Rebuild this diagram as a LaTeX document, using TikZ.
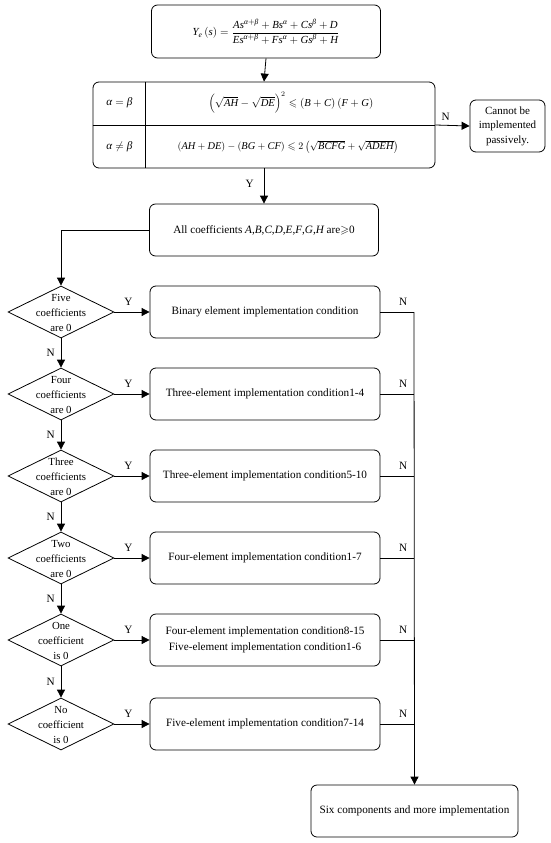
\documentclass[tikz,border=0pt]{standalone}
\usepackage{amsmath,amssymb}
\usepackage{fontspec}
\setmainfont{Liberation Serif}
\DeclareSymbolFont{tit}{TU}{\rmdefault}{m}{it}
\Umathcode`A="7 \symtit `A
\Umathcode`B="7 \symtit `B
\Umathcode`C="7 \symtit `C
\Umathcode`D="7 \symtit `D
\Umathcode`E="7 \symtit `E
\Umathcode`F="7 \symtit `F
\Umathcode`G="7 \symtit `G
\Umathcode`H="7 \symtit `H
\Umathcode`Y="7 \symtit `Y
\Umathcode`e="7 \symtit `e
\Umathcode`s="7 \symtit `s
\Umathchardef\myalpha="0 \symtit "03B1
\Umathchardef\mybeta="0 \symtit "03B2
\usetikzlibrary{arrows.meta,shapes.geometric}
\begin{document}
\begin{tikzpicture}[x=1pt,y=-1pt,
  every node/.style={font=\fontsize{11.2}{14}\selectfont},
  box/.style={draw, rounded corners=6pt, line width=0.8pt, inner sep=0pt, align=center, minimum width=230pt, minimum height=52pt},
  dia/.style={draw, diamond, line width=0.8pt, inner sep=0pt, minimum width=106pt, minimum height=52pt},
  diatext/.style={align=center, font=\fontsize{10.8}{15}\selectfont},
  lbl/.style={inner sep=0pt},
  ln/.style={line width=0.8pt},
  arr/.style={line width=0.8pt, -{Triangle[length=8pt,width=8pt]}}]
\useasboundingbox (0,0) rectangle (550,843);

% top formula
\node[box, minimum width=229pt, minimum height=53pt] (top) at (266,31.5)
  {\fontsize{10.8}{13}\selectfont$Y_e\left(s\right)=\dfrac{As^{\myalpha+\mybeta}+Bs^{\myalpha}+Cs^{\mybeta}+D}{Es^{\myalpha+\mybeta}+Fs^{\myalpha}+Gs^{\mybeta}+H}$};

% conditions box
\node[box, minimum width=342pt, minimum height=86pt] (cond) at (264,125) {};
\draw[ln] ([xshift=53pt]cond.north west) -- ([xshift=53pt]cond.south west);
\draw[ln] (cond.west) -- (cond.east);
\node[lbl] (ab1) at (119.5,103) {$\myalpha=\mybeta$};
\node[lbl] (ab2) at (119.5,147) {$\myalpha\neq\mybeta$};
\node[lbl] (f1) at (291,103) {\fontsize{10.6}{13}\selectfont$\left(\sqrt{AH}-\sqrt{DE}\right)^2\leqslant\left(B+C\right)\left(F+G\right)$};
\node[lbl] (f2) at (288,147) {\fontsize{10.4}{13}\selectfont$\left(AH+DE\right)-\left(BG+CF\right)\leqslant2\left(\sqrt{BCFG}+\sqrt{ADEH}\right)$};

\node[box, minimum width=75pt, minimum height=52pt, font=\fontsize{11}{14.5}\selectfont] (cannot) at (507.5,126) {Cannot be\\implemented\\passively.};

\draw[arr] (top.south) -- (cond.north);
\draw[arr] (cond.east) -- node[lbl, pos=0.3, above=4pt] (nc) {N} (cannot.west);

% all coefficients
\node[box, minimum width=229pt] (allc) at (264,230) {All coefficients $A$,$B$,$C$,$D$,$E$,$F$,$G$,$H$ are$\geqslant$0};
\draw[arr] (cond.south) -- node[lbl, pos=0.45, left=10pt] (yc) {Y} (allc.north);

% diamonds
\node[dia] (d1) at (61,312) {};
\node[dia] (d2) at (61,394) {};
\node[dia] (d3) at (61,476) {};
\node[dia] (d4) at (61,558) {};
\node[dia] (d5) at (61,640) {};
\node[dia] (d6) at (61,724) {};
\node[diatext] (t1) at ([yshift=-1pt]d1) {Five\\coefficients\\are 0};
\node[diatext] (t2) at ([yshift=-1pt]d2) {Four\\coefficients\\are 0};
\node[diatext] (t3) at ([yshift=-1pt]d3) {Three\\coefficients\\are 0};
\node[diatext] (t4) at ([yshift=-1pt]d4) {Two\\coefficients\\are 0};
\node[diatext] (t5) at ([yshift=-1pt]d5) {One\\coefficient\\is 0};
\node[diatext] (t6) at ([yshift=-1pt]d6) {No\\coefficient\\is 0};

% right boxes
\node[box] (r1) at (265,312) {Binary element implementation condition};
\node[box] (r2) at (265,394) {Three-element implementation condition1-4};
\node[box] (r3) at (265,476) {Three-element implementation condition5-10};
\node[box] (r4) at (265,558) {Four-element implementation condition1-7};
\node[box, font=\fontsize{11.2}{16}\selectfont] (r5) at (265,640) {Four-element implementation condition8-15\\Five-element implementation condition1-6};
\node[box] (r6) at (265,724) {Five-element implementation condition7-14};

\node[box, minimum width=207pt] (fin) at (414.5,811) {Six components and more implementation};

\draw[arr] (allc.west) -| (d1.north);
\foreach \a/\b in {d1/d2,d2/d3,d3/d4,d4/d5,d5/d6}
  \draw[arr] (\a.south) -- node[lbl, left=6pt] {N} (\b.north);
\foreach \i in {1,...,6}
  \draw[arr] (d\i.east) -- node[lbl, above=6pt, pos=0.4] {Y} (r\i.west);

% N collector
\foreach \i/\y in {1/312,2/394,3/476,4/558,5/640,6/724}
  \coordinate (j\i) at (414,\y);
\foreach \i in {1,...,6}
  \draw[ln] (r\i.east) -- node[lbl, above=6pt, pos=0.68] {N} (j\i);
\draw[arr] (j1) -- (fin.north);
\end{tikzpicture}
\end{document}
